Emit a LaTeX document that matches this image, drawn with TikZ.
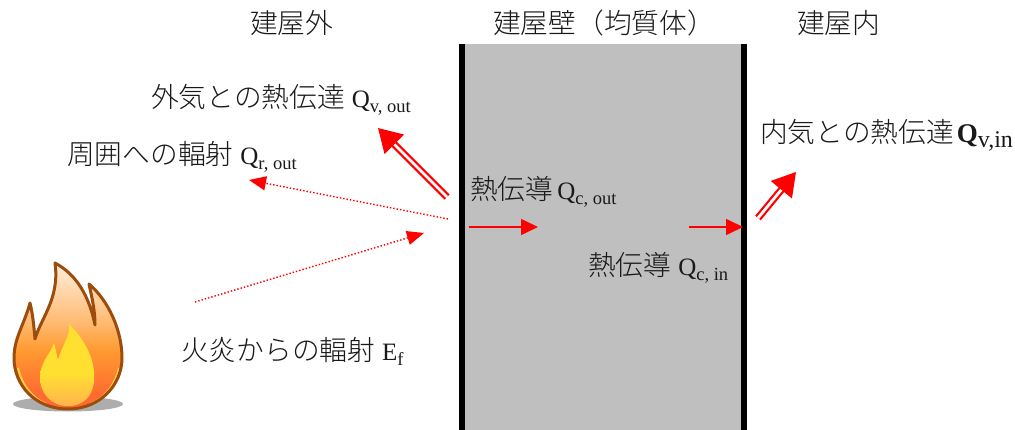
\documentclass[tikz,border=0pt]{standalone}
\usepackage{fontspec}
\usetikzlibrary{arrows.meta}
\newfontfamily\cjk{Noto Sans CJK JP}[UprightFont=* Light]
\newfontfamily\lsrf{Liberation Serif}
\newcommand\qsym[2]{{\lsrf\fontsize{25}{25}\selectfont #1\raisebox{-5pt}{\fontsize{18.5}{18}\selectfont #2}}}
\definecolor{wallgrey}{HTML}{BFBFBF}
\definecolor{flamerim}{HTML}{9C4C0C}
\definecolor{fa}{HTML}{FF6A30}
\definecolor{fb}{HTML}{FF9A30}
\definecolor{fc}{HTML}{FFBE78}
\definecolor{fd}{HTML}{FFEEDD}
\definecolor{ia}{HTML}{FFB44C}
\definecolor{ib}{HTML}{FFE030}
\definecolor{crescent}{HTML}{FFD040}
\pgfdeclareverticalshading{flameshade}{100bp}{color(0bp)=(fa);color(30bp)=(fa);color(45bp)=(fb);color(56bp)=(fc);color(75bp)=(fd);color(100bp)=(fd)}
\pgfdeclareverticalshading{innershade}{100bp}{color(0bp)=(ia);color(25bp)=(ia);color(45bp)=(ib);color(100bp)=(ib)}
\tikzset{
  lbl/.style={anchor=base west,inner sep=0pt,text=black!90,font=\fontsize{27.7}{28}\selectfont},
  dblarrow/.style={draw=red,double=white,line width=2.2pt,double distance=2.8pt,-{Triangle[length=23pt,width=27pt,fill=red]}},
  dotarrow/.style={red,line width=1.4pt,dotted,-{Triangle[length=17pt,width=14pt]}},
  condarrow/.style={red,line width=1.6pt,-{Triangle[length=17pt,width=16pt]}},
}
\begin{document}
\begin{tikzpicture}[x=1pt,y=-1pt]
\useasboundingbox (0,0) rectangle (1015,430);
% wall
\fill[wallgrey] (462,44) rectangle (744,430);
\draw[black,line width=6pt] (462,44) -- (462,430);
\draw[black,line width=6pt] (744,44) -- (744,430);
% flame
\fill[black!32] (68,404) ellipse [x radius=55,y radius=7.5];
\path[shading=flameshade]
  (68,409) .. controls (35,409) and (14,385) .. (14,358)
  .. controls (14,338) and (24,325) .. (30,303)
  .. controls (33,315) and (34,328) .. (35,339)
  .. controls (41,318) and (60,298) .. (55,263)
  .. controls (72,272) and (88,290) .. (95,325)
  .. controls (95,310) and (92,298) .. (89,284)
  .. controls (108,300) and (122,330) .. (122,358)
  .. controls (122,385) and (100,409) .. (68,409) -- cycle;
\draw[crescent,line width=2pt] (18,368) .. controls (22,385) and (32,398) .. (46,404);
\draw[crescent,line width=2pt] (119,368) .. controls (115,385) and (105,398) .. (90,404);
\path[shading=innershade]
  (68,406) .. controls (50,406) and (40,392) .. (40,378)
  .. controls (40,362) and (50,355) .. (54,343)
  .. controls (56,350) and (57,356) .. (58,360)
  .. controls (62,345) and (71,335) .. (69,324)
  .. controls (85,340) and (96,360) .. (94,382)
  .. controls (92,398) and (82,406) .. (68,406) -- cycle;
\draw[flamerim,line width=3pt,line join=round]
  (68,409) .. controls (35,409) and (14,385) .. (14,358)
  .. controls (14,338) and (24,325) .. (30,303)
  .. controls (33,315) and (34,328) .. (35,339)
  .. controls (41,318) and (60,298) .. (55,263)
  .. controls (72,272) and (88,290) .. (95,325)
  .. controls (95,310) and (92,298) .. (89,284)
  .. controls (108,300) and (122,330) .. (122,358)
  .. controls (122,385) and (100,409) .. (68,409) -- cycle;
% labels
\node[lbl] (outside) at (250,34) {\cjk 建屋外};
\node[lbl] (wall) at (493,34) {\cjk 建屋壁（均質体）};
\node[lbl] (inside) at (797,34) {\cjk 建屋内};
\node[lbl] (qvout) at (151,108) {\cjk 外気との熱伝達\hspace{7pt}\qsym{Q}{v, out}};
\node[lbl] (qrout) at (67,165) {\cjk 周囲への輻射\hspace{7pt}\qsym{Q}{r, out}};
\node[lbl] (qvin) at (760,143) {\cjk 内気との熱伝達\hspace{3pt}{\lsrf\bfseries\fontsize{27}{27}\selectfont Q\raisebox{-5pt}{\mdseries\fontsize{24}{24}\selectfont v,in}}};
\node[lbl] (qcout) at (470,200) {\cjk 熱伝導\hspace{4pt}\qsym{Q}{c, out}};
\node[lbl] (qcin) at (588,276) {\cjk 熱伝導\hspace{7pt}\qsym{Q}{c, in}};
\node[lbl] (ef) at (181,361) {\cjk 火炎からの輻射\hspace{7pt}\qsym{E}{f}};
% arrows
\coordinate (a1s) at (447,197); \coordinate (a1e) at (378,128);
\coordinate (a2s) at (448,219); \coordinate (a2e) at (249,180);
\coordinate (a3s) at (195,302); \coordinate (a3e) at (424,233);
\coordinate (a4s) at (469,227); \coordinate (a4e) at (538,227);
\coordinate (a5s) at (689,227); \coordinate (a5e) at (743,227);
\coordinate (a6s) at (758,218); \coordinate (a6e) at (796,172);
\draw[dblarrow] (a1s) -- (a1e);
\draw[dotarrow] (a2s) -- (a2e);
\draw[dotarrow] (a3s) -- (a3e);
\draw[condarrow] (a4s) -- (a4e);
\draw[condarrow] (a5s) -- (a5e);
\draw[dblarrow] (a6s) -- (a6e);
\end{tikzpicture}
\end{document}
